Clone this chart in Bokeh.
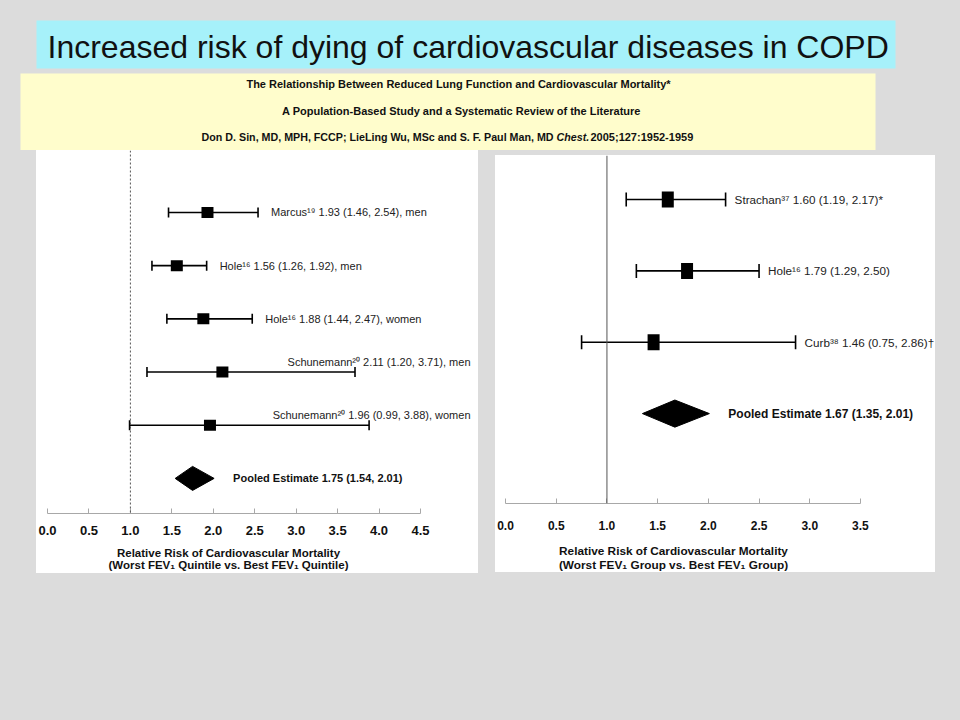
import numpy as np
from bokeh.plotting import figure
from bokeh.layouts import column, row
from bokeh.models import Range1d, ColumnDataSource, Span, FixedTicker, GlobalInlineStyleSheet
from bokeh.core.properties import value
from bokeh.embed import file_html
from bokeh.resources import INLINE

GRAY = "#dcdcdc"
CYAN = "#a6f1fa"
YELLOW = "#fffdcc"
FONT = "Liberation Sans"

# ---------------- texts ----------------
TITLE = "Increased risk of dying of cardiovascular diseases in COPD"
CITE_1 = "The Relationship Between Reduced Lung Function and Cardiovascular Mortality*"
CITE_2 = "A Population-Based Study and a Systematic Review of the Literature"
CITE_3A = "Don D. Sin, MD, MPH, FCCP; LieLing Wu, MSc and S. F. Paul Man, MD"
CITE_3B = "Chest."
CITE_3C = "2005;127:1952-1959"

# ---------------- left panel data ----------------
L_study = ["Marcus\u00b9\u2079", "Hole\u00b9\u2076", "Hole\u00b9\u2076", "Schunemann\u00b2\u2070", "Schunemann\u00b2\u2070"]
L_rr = [1.93, 1.56, 1.88, 2.11, 1.96]
L_lo = [1.46, 1.26, 1.44, 1.20, 0.99]
L_hi = [2.54, 1.92, 2.47, 3.71, 3.88]
L_group = ["men", "men", "women", "men", "women"]
L_side = ["right", "right", "right", "above", "above"]
L_pooled = [1.75, 1.54, 2.01]
L_ticks = [0.0, 0.5, 1.0, 1.5, 2.0, 2.5, 3.0, 3.5, 4.0, 4.5]
L_tick_labels = ["0.0", "0.5", "1.0", "1.5", "2.0", "2.5", "3.0", "3.5", "4.0", "4.5"]
L_xlabel = ["Relative Risk of Cardiovascular Mortality",
            "(Worst FEV\u2081 Quintile vs. Best FEV\u2081 Quintile)"]

# ---------------- right panel data ----------------
R_study = ["Strachan\u00b3\u2077", "Hole\u00b9\u2076", "Curb\u00b3\u2078"]
R_rr = [1.60, 1.79, 1.46]
R_lo = [1.19, 1.29, 0.75]
R_hi = [2.17, 2.50, 2.86]
R_note = ["*", "", "\u2020"]
R_side = ["right", "right", "right"]
R_pooled = [1.67, 1.35, 2.01]
R_ticks = [0.0, 0.5, 1.0, 1.5, 2.0, 2.5, 3.0, 3.5]
R_tick_labels = ["0.0", "0.5", "1.0", "1.5", "2.0", "2.5", "3.0", "3.5"]
R_xlabel = ["Relative Risk of Cardiovascular Mortality",
            "(Worst FEV\u2081 Group vs. Best FEV\u2081 Group)"]

# ---------------- header figure ----------------
top = figure(width=944, height=150, x_range=Range1d(0, 944), y_range=Range1d(150, 0),
             x_axis_location=None, y_axis_location=None, toolbar_location=None,
             output_backend="svg", min_border=0, outline_line_color=None,
             background_fill_color=GRAY, border_fill_color=GRAY)
top.grid.visible = False
top.quad(left=[36], right=[895], top=[20], bottom=[68], fill_color=CYAN, line_color=None)
top.quad(left=[20], right=[875], top=[73], bottom=[150], fill_color=YELLOW, line_color=None)
top.text(x=[47], y=[46], text=[TITLE], text_font=value(FONT), text_font_size="32px",
         text_color="#111111", text_baseline="middle", text_align="left")
top.text(x=[458, 461], y=[83, 110], text=[CITE_1, CITE_2], text_font=value(FONT),
         text_font_size="11px", text_font_style="bold", text_color="#111111",
         text_baseline="middle", text_align="center")
top.text(x=[553], y=[136], text=[CITE_3A], text_font=value(FONT), text_font_size="10.7px",
         text_font_style="bold", text_color="#111111", text_baseline="middle", text_align="right")
top.text(x=[556], y=[136], text=[CITE_3B], text_font=value(FONT), text_font_size="10.7px",
         text_font_style="bold italic", text_color="#111111", text_baseline="middle", text_align="left")
top.text(x=[590], y=[136], text=[CITE_3C], text_font=value(FONT), text_font_size="11px",
         text_font_style="bold", text_color="#111111", text_baseline="middle", text_align="left")


def forest(width, height, xr, yr, bottom, rr, lo, hi, labels, sides, pooled,
           ticks, tick_labels, sq_w, sq_h, cap, diam_h, fs, pfs, tfs,
           ref_dash, ref_color, tick_standoff, lab_gap):
    p = figure(width=width, height=height, x_range=xr, y_range=yr,
               y_axis_location=None, toolbar_location=None, output_backend="svg",
               min_border_left=0, min_border_right=0, min_border_top=0,
               min_border_bottom=bottom, outline_line_color=None,
               background_fill_color="white", border_fill_color="white")
    p.grid.visible = False
    ax = p.xaxis[0]
    ax.ticker = FixedTicker(ticks=ticks)
    ax.major_label_overrides = {t: s for t, s in zip(ticks, tick_labels)}
    ax.bounds = (ticks[0], ticks[-1])
    ax.minor_tick_line_color = None
    ax.major_tick_in = 5
    ax.major_tick_out = 0
    ax.axis_line_color = "#a8a8a8"
    ax.major_tick_line_color = "#a8a8a8"
    ax.major_label_text_font = FONT
    ax.major_label_text_font_style = "bold"
    ax.major_label_text_font_size = tfs
    ax.major_label_text_color = "#111111"
    ax.major_label_standoff = tick_standoff

    p.add_layout(Span(location=1.0, dimension="height", line_color=ref_color,
                      line_width=1, line_dash=ref_dash))

    n = len(rr)
    rows = list(range(n))
    src = ColumnDataSource(dict(y=rows, rr=rr, lo=lo, hi=hi))
    p.segment(x0="lo", y0="y", x1="hi", y1="y", source=src, line_color="black", line_width=1.6)
    p.scatter(x="lo", y="y", source=src, marker="dash", size=cap, angle=np.pi / 2,
              line_color="black", line_width=1.6)
    p.scatter(x="hi", y="y", source=src, marker="dash", size=cap, angle=np.pi / 2,
              line_color="black", line_width=1.6)
    p.rect(x="rr", y="y", width=sq_w, height=sq_h, width_units="screen", height_units="screen",
           source=src, fill_color="black", line_color=None)

    r_idx = [i for i in rows if sides[i] == "right"]
    a_idx = [i for i in rows if sides[i] == "above"]
    if r_idx:
        p.text(x=[hi[i] for i in r_idx], y=r_idx, text=[labels[i] for i in r_idx],
               x_offset=lab_gap, text_font=value(FONT), text_font_size=fs, text_color="#222222",
               text_baseline="middle", text_align="left")
    if a_idx:
        p.text(x=[xr.end] * len(a_idx), y=a_idx, text=[labels[i] for i in a_idx],
               x_offset=-8, y_offset=-10, text_font=value(FONT), text_font_size=fs,
               text_color="#222222", text_baseline="middle", text_align="right")

    est, plo, phi = pooled
    py = n
    p.patch(x=[plo, est, phi, est], y=[py, py - diam_h, py, py + diam_h],
            fill_color="black", line_color="black", line_width=1)
    p.text(x=[phi], y=[py], text=["Pooled Estimate %.2f (%.2f, %.2f)" % (est, plo, phi)],
           x_offset=19, text_font=value(FONT), text_font_size=pfs, text_font_style="bold",
           text_color="#111111", text_baseline="middle", text_align="left")
    return p


def axis_title(width, height, lines, cx, ys, fs):
    q = figure(width=width, height=height, x_range=Range1d(0, width), y_range=Range1d(height, 0),
               x_axis_location=None, y_axis_location=None, toolbar_location=None,
               output_backend="svg", min_border=0, outline_line_color=None,
               background_fill_color="white", border_fill_color="white")
    q.grid.visible = False
    q.text(x=[cx] * len(lines), y=ys, text=lines, text_font=value(FONT), text_font_size=fs,
           text_font_style="bold", text_color="#111111", text_baseline="middle",
           text_align="center")
    return q


L_labels = ["%s %.2f (%.2f, %.2f), %s" % (s, r, a, b, g)
            for s, r, a, b, g in zip(L_study, L_rr, L_lo, L_hi, L_group)]
R_labels = ["%s %.2f (%.2f, %.2f)%s" % (s, r, a, b, nt)
            for s, r, a, b, nt in zip(R_study, R_rr, R_lo, R_hi, R_note)]

left = forest(442, 393, Range1d(-0.133, 5.2), Range1d(start=5.66, end=-1.165), 30,
              L_rr, L_lo, L_hi, L_labels, L_side, L_pooled,
              L_ticks, L_tick_labels, 12, 11, 10, 0.226,
              "11px", "11px", "13px", "2 2", "#555555", 12, 13)
left_title = axis_title(442, 30, L_xlabel, 192, [9, 21], "11.5px")

right = forest(440, 382, Range1d(-0.099, 4.24), Range1d(start=4.26, end=-0.617), 34,
               R_rr, R_lo, R_hi, R_labels, R_side, R_pooled,
               R_ticks, R_tick_labels, 12, 16, 14, 0.19,
               "11.7px", "12px", "12px", "solid", "#555555", 17, 9)
right_title = axis_title(440, 35, R_xlabel, 178, [13, 27], "11.8px")

left_col = column(left, left_title, spacing=0, styles={"background-color": "white"})
left_col.margin = (0, 0, 0, 36)
right_col = column(right, right_title, spacing=0, styles={"background-color": "white"})
right_col.margin = (5, 0, 0, 17)

root = column(top, row(left_col, right_col, spacing=0), spacing=0, width=944, height=704,
              styles={"background-color": GRAY},
              stylesheets=[GlobalInlineStyleSheet(css="body{background-color:%s;}" % GRAY)])

open("out.html", "w").write(file_html(root, INLINE))
